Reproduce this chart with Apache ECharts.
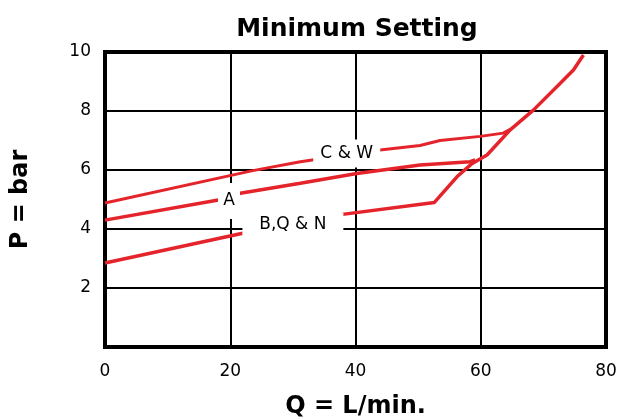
<!DOCTYPE html>
<html>
<head>
<meta charset="utf-8">
<script src="https://cdn.jsdelivr.net/npm/echarts@6/dist/echarts.min.js"></script>
<style>
html,body{margin:0;padding:0;background:#fff;}
#chart{width:619px;height:417px;}
</style>
</head>
<body>
<div id="chart"></div>
<script>
// Data
const cwQ = [0, 23.4, 31.2, 43.9, 50.3, 53.5, 59.9, 63.6, 64.7];
const cwP = [4.88, 5.97, 6.28, 6.68, 6.83, 7.0, 7.14, 7.25, 7.38];

const aQ = [0, 18.1, 21.6, 31.2, 40.2, 50.3, 58.3, 59.1];
const aP = [4.3, 4.98, 5.21, 5.55, 5.88, 6.17, 6.28, 6.34];

const bQ = [0, 21.8, 37, 52.6, 56.2, 58.5, 61, 64.7, 68.4, 72.7, 74.8, 76.4];
const bP = [2.85, 3.85, 4.47, 4.9, 5.77, 6.2, 6.51, 7.36, 8.03, 8.94, 9.39, 9.9];

const curveLabels = ['C & W', 'A', 'B,Q & N'];
const labelQ = [38.6, 19.8, 30];
const labelP = [6.56, 4.95, 4.14];

const xTicks = [0, 20, 40, 60, 80];
const yTicks = [2, 4, 6, 8, 10];

const RED = '#e5232b';
const FONT = 'DejaVu Sans';

function pairs(xs, ys) { return xs.map((x, i) => [x, ys[i]]); }

const labelSizes = [[67, 28], [22, 36], [101, 24]];
function mark(i) {
  return {
    silent: true,
    animation: false,
    symbol: 'rect',
    symbolSize: labelSizes[i],
    itemStyle: { color: '#fff' },
    label: {
      show: true, position: 'inside', formatter: curveLabels[i],
      color: '#000', fontFamily: FONT, fontSize: 17
    },
    data: [{ coord: [labelQ[i], labelP[i]] }]
  };
}

const chart = echarts.init(document.getElementById('chart'), null, { renderer: 'canvas' });
chart.setOption({
  backgroundColor: '#fff',
  animation: false,
  title: {
    text: 'Minimum Setting', left: 352, textAlign: 'center', top: 12,
    textStyle: { fontFamily: FONT, fontWeight: 'bold', fontSize: 25, color: '#000' }
  },
  grid: {
    left: 105, top: 52, width: 501, height: 295,
    outerBoundsMode: 'none', containLabel: false,
    show: true, borderColor: '#000', borderWidth: 4, backgroundColor: 'transparent'
  },
  xAxis: {
    type: 'value', min: xTicks[0], max: xTicks[xTicks.length - 1], interval: 20,
    name: 'Q = L/min.', nameLocation: 'middle', nameGap: 48,
    nameTextStyle: { fontFamily: FONT, fontWeight: 'bold', fontSize: 24, color: '#000' },
    axisLine: { show: false }, axisTick: { show: false },
    axisLabel: { margin: 16, fontFamily: FONT, fontSize: 17, color: '#000',
      formatter: v => xTicks.includes(v) ? String(v) : '' },
    splitLine: { show: true, lineStyle: { color: '#000', width: 2 } }
  },
  yAxis: {
    type: 'value', min: 0, max: yTicks[yTicks.length - 1], interval: 2,
    name: 'P = bar', nameLocation: 'middle', nameGap: 72, nameRotate: 90,
    nameTextStyle: { fontFamily: FONT, fontWeight: 'bold', fontSize: 24, color: '#000' },
    axisLine: { show: false }, axisTick: { show: false },
    axisLabel: { margin: 14, fontFamily: FONT, fontSize: 17, color: '#000',
      formatter: v => yTicks.includes(v) ? String(v) : '' },
    splitLine: { show: true, lineStyle: { color: '#000', width: 2 } }
  },
  series: [
    { type: 'line', name: 'C & W', data: pairs(cwQ, cwP), showSymbol: false, symbol: 'none',
      lineStyle: { color: RED, width: 3 }, markPoint: mark(0), z: 3 },
    { type: 'line', name: 'A', data: pairs(aQ, aP), showSymbol: false, symbol: 'none',
      lineStyle: { color: RED, width: 3.5 }, markPoint: mark(1), z: 3 },
    { type: 'line', name: 'B,Q & N', data: pairs(bQ, bP), showSymbol: false, symbol: 'none',
      lineStyle: { color: RED, width: 3.5 }, markPoint: mark(2), z: 3 }
  ]
});
</script>
</body>
</html>
